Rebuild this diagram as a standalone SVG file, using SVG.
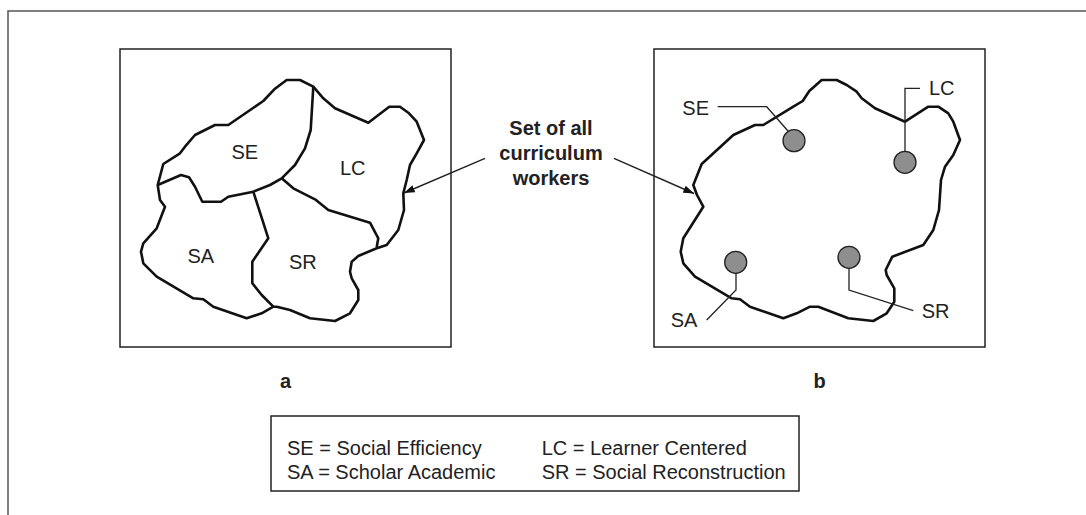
<svg xmlns="http://www.w3.org/2000/svg" width="1086" height="515" viewBox="0 0 1086 515">
<style>
.frame{fill:none;stroke:#555;stroke-width:1.5}
.box{fill:none;stroke:#222;stroke-width:1.5}
.blob{fill:none;stroke:#111;stroke-width:2.6;stroke-linejoin:round}
.lead{fill:none;stroke:#222;stroke-width:1.3}
.dot{fill:#8e8e8e;stroke:#222;stroke-width:1.3}
.lbl{font-family:"Liberation Sans",Arial,sans-serif;font-size:20px;fill:#222}
.bold{font-family:"Liberation Sans",Arial,sans-serif;font-size:20px;font-weight:bold;fill:#222}
.arr{fill:none;stroke:#222;stroke-width:1.4}
</style>
<defs>
<marker id="ah" viewBox="0 0 10 7" refX="10" refY="3.5" markerWidth="11" markerHeight="7.5" markerUnits="userSpaceOnUse" orient="auto">
<path d="M0,0 L10,3.5 L0,7 z" fill="#111"/>
</marker>
</defs>
<rect width="1086" height="515" fill="#fff"/>
<path class="frame" d="M8,515 V11 H1086"/>

<g id="panel-a">
<rect class="box" x="120" y="49" width="331" height="298"/>
<path class="blob" d="M157.7,185 L163.3,164 L180,153.3 L185,146.7 L195,135 L215,125 L228.3,125 L263.3,101 L274.3,89.3 L286.7,80 L300,80 L313.3,86.7 L323.3,98.3 L335,108.3 L368.3,122.7 L389.3,106.7 L400,106.7 L408.3,112.7 L416.7,121.7 L424,140 L416.7,153.3 L410,165 L406.7,180 L403.3,193.3 L404,210 L398.3,230 L386.7,245 L376.7,248.3 L358.3,256 L351.7,261.7 L350,271.7 L351.7,278.3 L358.3,290 L358.3,300 L350,313.3 L335,321 L310,318.3 L290,310 L276.7,306.7 L273.3,306.7 L261.7,313.3 L246.7,318.3 L213.3,306.7 L203.3,299.3 L193.3,298.3 L156.7,276.7 L143.3,263.3 L141,251.7 L143.3,243.3 L156.7,228.3 L165,206.7 L160,200 Z"/>
<path class="blob" d="M313.3,86.7 L310.7,130 L305,148.3 L295,165 L281.7,178.3 L270,185 L253.3,191.7"/>
<path class="blob" d="M157.7,185 L181,175 L189,177.3 L195,186.7 L202.3,201.7 L221,201.7 L228.3,196.7 L253.3,191.7"/>
<path class="blob" d="M253.3,191.7 L268.3,238.3 L252.3,261.7 L252.3,283.3 L261.7,295 L273.3,306.7"/>
<path class="blob" d="M281.7,178.3 L293.3,188.3 L315,199.3 L328.3,210 L370,222.7 L378.3,238.3 L376.7,247"/>
<text class="lbl" x="231.5" y="159">SE</text>
<text class="lbl" x="340" y="175">LC</text>
<text class="lbl" x="187.5" y="263">SA</text>
<text class="lbl" x="289" y="269">SR</text>
<text class="bold" x="285.5" y="388" text-anchor="middle">a</text>
</g>

<g id="panel-b">
<rect class="box" x="654" y="49" width="331" height="298"/>
<path class="blob" d="M693.3,185 L701.7,164 L733.3,135 L755,125 L763.3,125 L793.3,106.7 L802.7,101 L809.3,91 L821.7,80 L836.7,80 L846.7,85 L856.7,91.7 L861.7,98.3 L875,108.3 L905,121.7 L928.3,106.7 L938.3,106.7 L948.3,113.3 L953.3,121.7 L960,140 L953.3,155 L945,166.7 L941,180 L940,195 L939,210 L933.3,230 L923.3,245 L892.3,256.7 L885.7,270 L886.7,275 L894.3,288.3 L894.3,301.7 L886.7,313.3 L873.3,321 L848.3,318.3 L818.3,306.7 L810,306.7 L796.7,313.3 L783.3,318.3 L750,306.7 L740,299.3 L731.7,298.3 L695,276.7 L683.3,263.3 L680.7,251.7 L683.3,238.3 L703.3,206.7 L697,195 Z"/>
<g id="marker-se">
<path class="lead" d="M717.7,106.7 H766.7 L788,131"/>
<circle class="dot" cx="794" cy="140.7" r="11"/>
<text class="lbl" x="682.3" y="115">SE</text>
</g>
<g id="marker-lc">
<path class="lead" d="M920,88.3 H905 V151.7"/>
<circle class="dot" cx="905" cy="162.3" r="11"/>
<text class="lbl" x="929" y="95">LC</text>
</g>
<g id="marker-sa">
<path class="lead" d="M736,273 V290 L706.7,320"/>
<circle class="dot" cx="735.7" cy="262.3" r="11"/>
<text class="lbl" x="670.7" y="326.7">SA</text>
</g>
<g id="marker-sr">
<path class="lead" d="M849,268.3 V290 L913.3,310.7"/>
<circle class="dot" cx="849" cy="257.3" r="11"/>
<text class="lbl" x="921.7" y="318.3">SR</text>
</g>
<text class="bold" x="819.5" y="388" text-anchor="middle">b</text>
</g>

<g id="callout">
<text class="bold" x="551" y="135" text-anchor="middle">Set of all</text>
<text class="bold" x="551" y="160" text-anchor="middle">curriculum</text>
<text class="bold" x="551" y="185" text-anchor="middle">workers</text>
</g>

<g id="connectors">
<path class="arr" d="M485,158.3 L404,193" marker-end="url(#ah)"/>
<path class="arr" d="M614,158.3 L694,193.5" marker-end="url(#ah)"/>
</g>

<g id="legend">
<rect class="box" x="271" y="416" width="528" height="75"/>
<text class="lbl" x="287" y="455">SE = Social Efficiency</text>
<text class="lbl" x="287" y="479">SA = Scholar Academic</text>
<text class="lbl" x="541.7" y="455">LC = Learner Centered</text>
<text class="lbl" x="541.7" y="479">SR = Social Reconstruction</text>
</g>
</svg>
